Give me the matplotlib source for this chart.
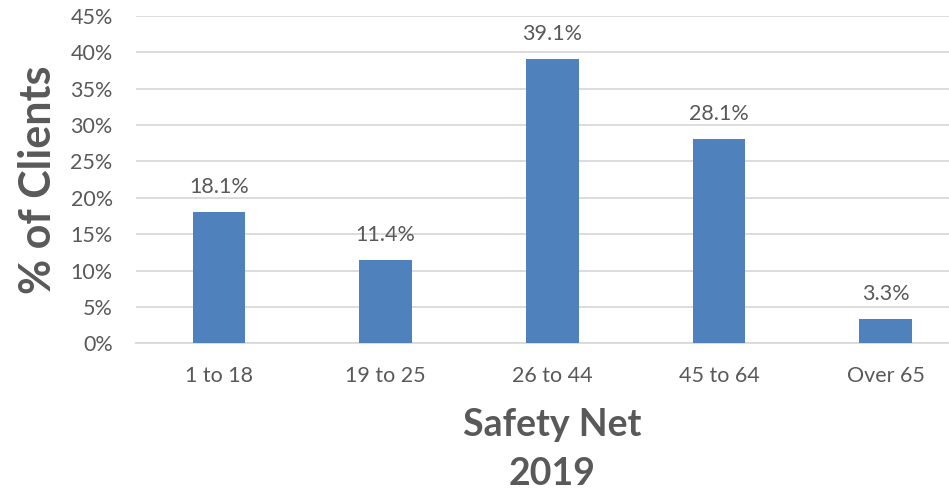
import matplotlib.pyplot as plt
from matplotlib.ticker import PercentFormatter

categories = ["1 to 18", "19 to 25", "26 to 44", "45 to 64", "Over 65"]
values = [18.1, 11.4, 39.1, 28.1, 3.3]
y_ticks = [0, 5, 10, 15, 20, 25, 30, 35, 40, 45]

plt.rcParams['font.family'] = ['Lato', 'DejaVu Sans']
grey = "#595959"

fig = plt.figure(figsize=(9.49, 4.94), dpi=100)
# axes runs a little past the right edge, as in the original
ax = fig.add_axes([135.6 / 949, (494 - 343.3) / 494, 833.4 / 949, 327.3 / 494])

x = range(len(categories))
bars = ax.bar(x, values, width=0.315, color="#4F81BD", zorder=3)
for b, v in zip(bars, values):
    ax.text(b.get_x() + b.get_width() / 2, v + 2.6, f"{v:.1f}%",
            ha="center", va="baseline", fontsize=15.5, color=grey)

ax.set_xlim(-0.5, len(categories) - 0.5)
ax.set_ylim(0, 45)
ax.set_yticks(y_ticks)
ax.yaxis.set_major_formatter(PercentFormatter(decimals=0))
ax.set_xticks(list(x))
ax.set_xticklabels(categories)
ax.tick_params(axis="both", length=0, labelsize=15.5, labelcolor=grey)
ax.tick_params(axis="x", pad=16)
ax.tick_params(axis="y", pad=16.5)
ax.grid(axis="y", color="#D9D9D9", linewidth=1.3, zorder=0)
for s in ["top", "right", "left"]:
    ax.spines[s].set_visible(False)
ax.spines["bottom"].set_color("#D9D9D9")
ax.spines["bottom"].set_linewidth(1.3)

ax.set_ylabel("% of Clients", fontsize=31, fontweight="bold", color=grey, labelpad=9)
ax.set_xlabel("Safety Net\n2019", fontsize=27, fontweight="bold", color=grey,
              labelpad=16, linespacing=1.55)

fig.savefig("out.png", dpi=100)
